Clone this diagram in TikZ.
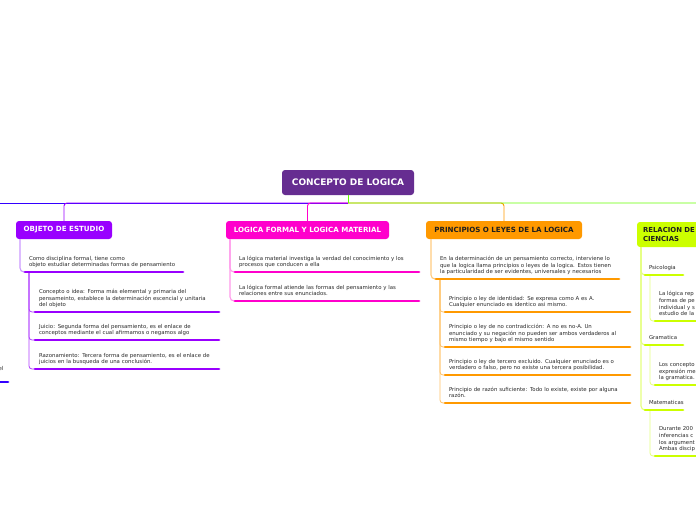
\documentclass[tikz,border=0pt]{standalone}
\usepackage{fontspec}
\setmainfont{DejaVu Sans}
\definecolor{cCenter}{HTML}{662D91}
\definecolor{cPurple}{HTML}{9900FF}
\definecolor{cPurpleL}{HTML}{CC99FF}
\definecolor{cMag}{HTML}{FF00CC}
\definecolor{cMagL}{HTML}{FF99EB}
\definecolor{cOr}{HTML}{FF9900}
\definecolor{cOrL}{HTML}{FFCC80}
\definecolor{cLime}{HTML}{CCFF00}
\definecolor{cLimeL}{HTML}{E5FF80}
\definecolor{cGreen}{HTML}{66FF00}
\definecolor{cBlue}{HTML}{3300FF}
\definecolor{cText}{HTML}{2B2B2B}
\tikzset{
  centernode/.style={rounded corners=3pt, fill=cCenter, text=white, anchor=north west,
    minimum width=132pt, minimum height=25pt, inner sep=0pt, outer sep=0pt,
    font=\fontsize{9}{10}\selectfont\bfseries},
  topic/.style={rounded corners=3pt, anchor=north west, inner xsep=0pt, inner ysep=0pt,
    minimum height=18pt, outer sep=0pt, font=\fontsize{7.1}{8.5}\selectfont\bfseries},
  sub/.style={anchor=south west, align=left, text width=200pt, inner xsep=4pt, inner ysep=3pt,
    outer sep=0pt, text=cText, font=\fontsize{5.4}{6.7}\selectfont, execute at end node=\strut},
  ul/.style={line width=2.8pt, line cap=round},
  mainline/.style={line width=0.9pt, rounded corners=3pt},
  link/.style={line width=1.1pt, rounded corners=4pt},
  link2/.style={line width=0.8pt, rounded corners=3pt},
}
\begin{document}
\begin{tikzpicture}[x=1pt,y=-1pt]
\useasboundingbox (0,0) rectangle (696,520);
\fill[white] (0,0) rectangle (696,520);
\clip (0,0) rectangle (696,520);

% central topic and hub
\node[centernode] (c) at (282,170) {CONCEPTO DE LOGICA};
\coordinate (hub) at (348,203);
\coordinate (lend) at (-10,203);

% main topics
\node[topic, fill=cPurple, text=white, minimum width=96pt] (o) at (16,221) {OBJETO DE ESTUDIO};
\node[topic, fill=cMag, text=white, minimum width=163pt] (l) at (226,221) {LOGICA FORMAL Y LOGICA MATERIAL};
\node[topic, fill=cOr, text=cText!70!black, minimum width=156pt] (p) at (426,221) {PRINCIPIOS O LEYES DE LA LOGICA};
\node[topic, fill=cLime, text=cText!70!black, minimum height=25pt, text width=162pt, align=left,
      inner xsep=6pt, font=\fontsize{6.9}{8.5}\selectfont\bfseries] (r) at (637,222) {RELACION DE\\CIENCIAS};

% main connectors
\draw[mainline, cBlue] (hub) -- (lend);
\draw[mainline, cPurple] (hub) -| (o.north);
\draw[mainline, cMag] (hub) -| (l.north);
\draw[mainline, cOr] (hub) -| (p.north);
\draw[mainline, cGreen] (hub) -| (r.north);
\draw[line width=0.9pt, cGreen] (c.south) -- (hub);

% left fragment
\node[sub, text width=30pt, align=right] (lf) at (-30.5,382) {el\\\mbox{}};
\draw[ul, cBlue] (lf.south west) -- ++(38.5,0);

% OBJETO DE ESTUDIO
\node[sub] (o0) at (25,272) {Como disciplina formal, tiene como\\objeto estudiar determinadas formas de pensamiento};
\node[sub] (o1) at (35,312) {Concepto o idea: Forma más elemental y primaria del\\pensameinto, establece la determinación escencial y unitaria\\del objeto};
\node[sub] (o2) at (35,340) {Juicio: Segunda forma del pensamiento, es el enlace de\\conceptos mediante el cual afirmamos o negamos algo};
\node[sub] (o3) at (35,369) {Razonamiento: Tercera forma de pensamiento, es el enlace de\\juicios en la busqueda de una conclusión.};
\draw[link, cPurpleL] ([xshift=4pt]o.south west) |- (o0.south west);
\draw[link2, cPurple!75] ([xshift=4pt]o0.south west) |- (o1.south west);
\draw[link2, cPurple!75] ([xshift=4pt]o0.south west) |- (o2.south west);
\draw[link2, cPurple!75] ([xshift=4pt]o0.south west) |- (o3.south west);
\draw[ul, cPurple] (o0.south west) -- ++(158,0);
\draw[ul, cPurple] (o1.south west) -- ++(184,0);
\draw[ul, cPurple] (o2.south west) -- ++(184,0);
\draw[ul, cPurple] (o3.south west) -- ++(184,0);

% LOGICA FORMAL Y LOGICA MATERIAL
\node[sub] (l1) at (235,272) {La lógica material investiga la verdad del conocimiento y los\\procesos que conducen a ella};
\node[sub] (l2) at (235,301) {La lógica formal atiende las formas del pensamiento y las\\relaciones entre sus enunciados.};
\draw[link, cMagL] ([xshift=4pt]l.south west) |- (l1.south west);
\draw[link, cMagL] ([xshift=4pt]l.south west) |- (l2.south west);
\draw[ul, cMag] (l1.south west) -- ++(184,0);
\draw[ul, cMag] (l2.south west) -- ++(184,0);

% PRINCIPIOS
\node[sub] (p0) at (436,279) {En la determinación de un pensamiento correcto, interviene lo\\que la logica llama principios o leyes de la logica. Estos tienen\\la particularidad de ser evidentes, universales y necesarios};
\node[sub] (p1) at (445,312) {Principio o ley de identidad: Se expresa como A es A.\\Cualquier enunciado es identico asi mismo.};
\node[sub] (p2) at (445,347) {Principio o ley de no contradicción: A no es no-A. Un\\enunciado y su negación no pueden ser ambos verdaderos al\\mismo tiempo y bajo el mismo sentido};
\node[sub] (p3) at (445,375) {Principio o ley de tercero excluido. Cualquier enunciado es o\\verdadero o falso, pero no existe una tercera posibilidad.};
\node[sub] (p4) at (445,403) {Principio de razón suficiente: Todo lo existe, existe por alguna\\razón.};
\draw[link, cOrL] ([xshift=5pt]p.south west) |- (p0.south west);
\draw[link2, cOr!60] ([xshift=4pt]p0.south west) |- (p1.south west);
\draw[link2, cOr!60] ([xshift=4pt]p0.south west) |- (p2.south west);
\draw[link2, cOr!60] ([xshift=4pt]p0.south west) |- (p3.south west);
\draw[link2, cOr!60] ([xshift=4pt]p0.south west) |- (p4.south west);
\draw[ul, cOr] (p0.south west) -- ++(183,0);
\draw[ul, cOr] (p1.south west) -- ++(185,0);
\draw[ul, cOr] (p2.south west) -- ++(185,0);
\draw[ul, cOr] (p3.south west) -- ++(185,0);
\draw[ul, cOr] (p4.south west) -- ++(185,0);

% RELACION
\node[sub] (r1) at (645,275) {Psicologia};
\node[sub] (r1a) at (655,321) {La lógica rep\\formas de pe\\individual y s\\estudio de la};
\node[sub] (r2) at (645,345) {Gramatica};
\node[sub] (r2a) at (655,385) {Los concepto\\expresión me\\la gramatica.};
\node[sub] (r3) at (645,410) {Matematicas};
\node[sub] (r3a) at (655,456) {Durante 200\\inferencias c\\los argument\\Ambas discip};
\draw[link, cLimeL] ([xshift=4pt]r.south west) |- (r1.south west);
\draw[link, cLimeL] ([xshift=4pt]r.south west) |- (r2.south west);
\draw[link, cLimeL] ([xshift=4pt]r.south west) |- (r3.south west);
\draw[link2, cLimeL] ([xshift=5pt]r1.south west) |- (r1a.south west);
\draw[link2, cLimeL] ([xshift=5pt]r2.south west) |- (r2a.south west);
\draw[link2, cLimeL] ([xshift=5pt]r3.south west) |- (r3a.south west);
\draw[ul, cLime] (r1.south west) -- ++(38,0);
\draw[ul, cLime] (r2.south west) -- ++(38,0);
\draw[ul, cLime] (r3.south west) -- ++(38,0);
\draw[ul, cLime] (r1a.south west) -- ++(100,0);
\draw[ul, cLime] (r2a.south west) -- ++(100,0);
\draw[ul, cLime] (r3a.south west) -- ++(100,0);
\end{tikzpicture}
\end{document}
